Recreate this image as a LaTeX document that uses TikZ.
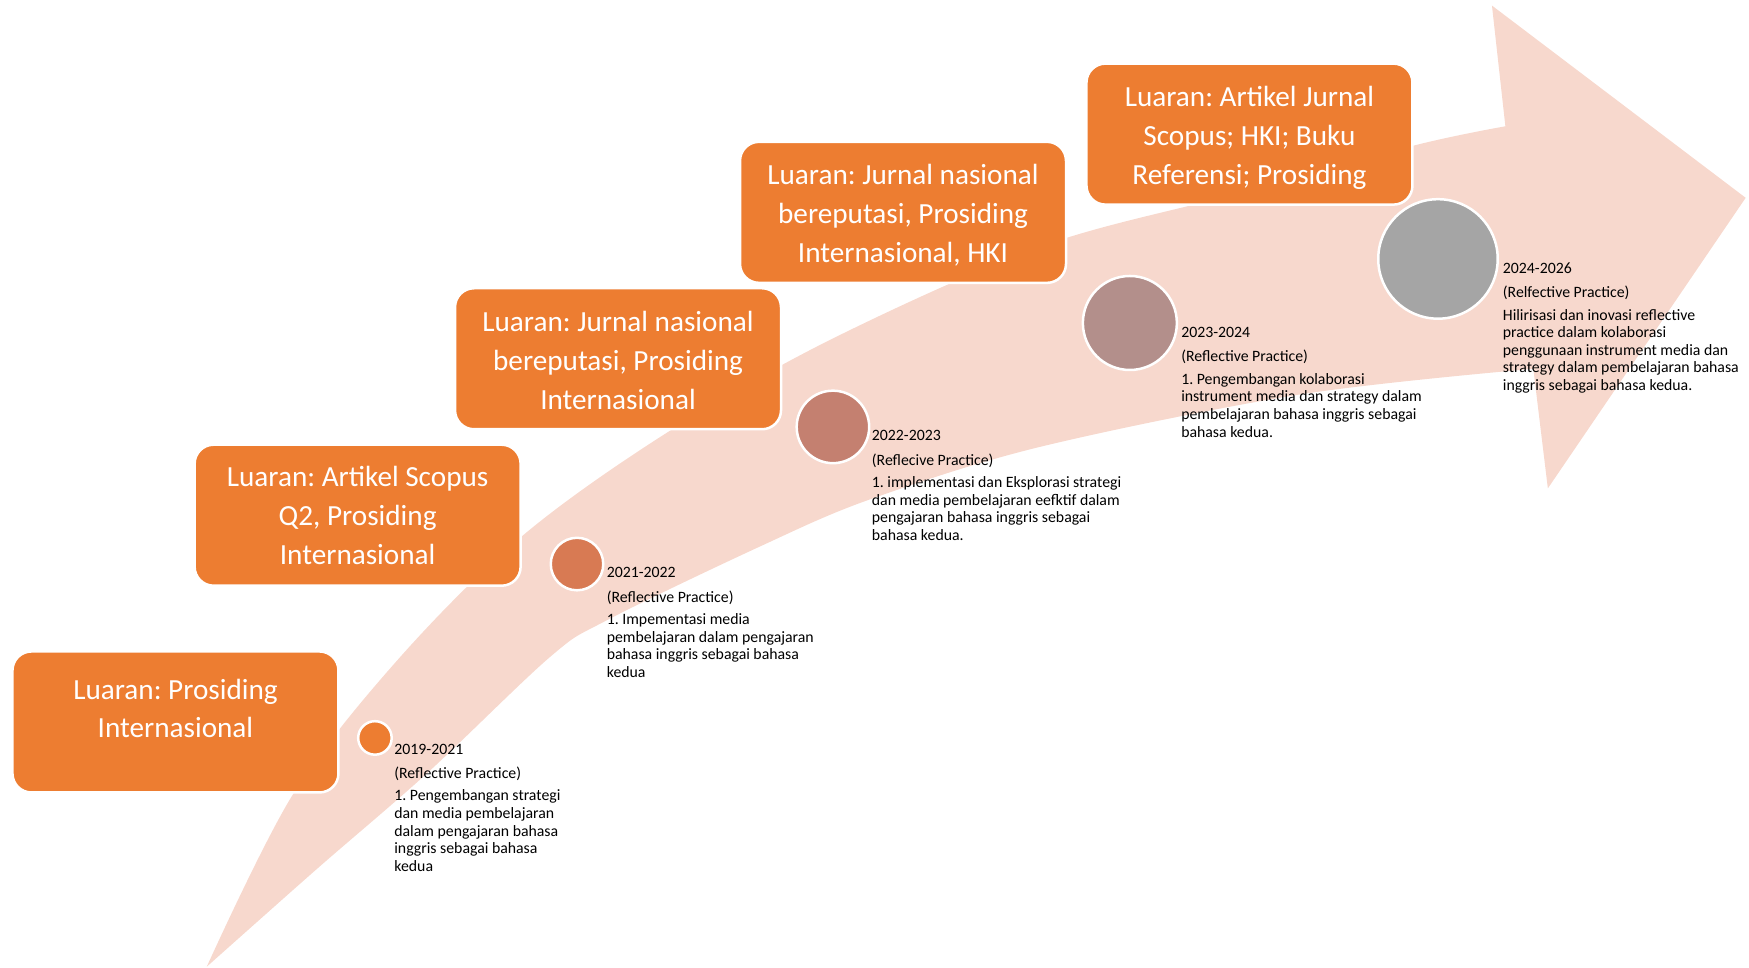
\documentclass[tikz,border=0pt]{standalone}
\usepackage{fontspec}
\setmainfont{Carlito}
\frenchspacing
\definecolor{orangeC}{RGB}{237,125,49}
\definecolor{arrowC}{RGB}{247,216,205}
\definecolor{dotA}{RGB}{237,125,49}
\definecolor{dotB}{RGB}{216,122,83}
\definecolor{dotC}{RGB}{196,128,112}
\definecolor{dotD}{RGB}{179,143,139}
\definecolor{dotE}{RGB}{165,165,165}
\begin{document}
\frenchspacing
\begin{tikzpicture}[x=1.11757pt,y=-1.11757pt,
  outbox/.style={rectangle, rounded corners=19pt, fill=orangeC, draw=white, line width=2.5pt,
    minimum width=326pt, minimum height=141pt, inner sep=0pt},
  boxtxt/.style={anchor=base, text=white, inner sep=0pt, font=\fontsize{29.2}{38.8}\selectfont},
  dot/.style={circle, draw=white, line width=2.5pt, inner sep=0pt},
  lbl/.style={anchor=base west, inner sep=0pt, text=black, font=\fontsize{15.8}{17.6}\selectfont}]
\useasboundingbox (0,0) rectangle (1565,865.3);

% curved arrow
\fill[arrowC] plot[smooth, tension=0.55] coordinates {(185,865) (262,711) (358,588) (468,479) (597,387) (743,304) (930,221) (1100,175) (1266,130) (1347,113)}
  -- (1335,5) -- (1562,177) -- (1385,437) -- (1372,330)
  -- plot[smooth, tension=0.55] coordinates {(1372,330) (1163,353) (930,400) (778,447) (680,489) (543,555) (492,588) (382,692) (283,778) (185,865)}
  -- cycle;

% output boxes
\node[outbox] (b1) at (157,646) {};
\node[outbox] (b2) at (320,461) {};
\node[outbox] (b3) at (553,321) {};
\node[outbox] (b4) at (808,190) {};
\node[outbox] (b5) at (1118,120) {};

\node[boxtxt] (bt1) at (157,625.5) {\begin{tabular}[t]{@{}c@{}}Luaran: Prosiding\\Internasional\end{tabular}};
\node[boxtxt] (bt2) at (320,435.5) {\begin{tabular}[t]{@{}c@{}}Luaran: Artikel Scopus\\Q2, Prosiding\\Internasional\end{tabular}};
\node[boxtxt] (bt3) at (553,297) {\begin{tabular}[t]{@{}c@{}}Luaran: Jurnal nasional\\bereputasi, Prosiding\\Internasional\end{tabular}};
\node[boxtxt] (bt4) at (808,165.5) {\begin{tabular}[t]{@{}c@{}}Luaran: Jurnal nasional\\bereputasi, Prosiding\\Internasional, HKI\end{tabular}};
\node[boxtxt] (bt5) at (1118,95.5) {\begin{tabular}[t]{@{}c@{}}Luaran: Artikel Jurnal\\Scopus; HKI; Buku\\Referensi; Prosiding\end{tabular}};

% milestone circles
\node[dot, fill=dotA, minimum size=33.5pt] (c1) at (335.5,660.3) {};
\node[dot, fill=dotB, minimum size=52.5pt] (c2) at (516.3,504.7) {};
\node[dot, fill=dotC, minimum size=72.5pt] (c3) at (745.3,382) {};
\node[dot, fill=dotD, minimum size=94pt] (c4) at (1011,289) {};
\node[dot, fill=dotE, minimum size=119.5pt] (c5) at (1286.7,231.7) {};

% labels
\node[lbl] (t1) at (352.7,674.7) {\begin{tabular}[t]{@{}l@{}}2019-2021\\[6.8pt](Reflective Practice)\\[4.8pt]1. Pengembangan strategi\\dan media pembelajaran\\dalam pengajaran bahasa\\inggris sebagai bahasa\\kedua\end{tabular}};
\node[lbl] (t2) at (542.8,517) {\begin{tabular}[t]{@{}l@{}}2021-2022\\[6.8pt](Reflective Practice)\\[4.8pt]1. Impementasi media\\pembelajaran dalam pengajaran\\bahasa inggris sebagai bahasa\\kedua\end{tabular}};
\node[lbl] (t3) at (780,394.3) {\begin{tabular}[t]{@{}l@{}}2022-2023\\[6.8pt](Reflecive Practice)\\[4.8pt]1. implementasi dan Eksplorasi strategi\\dan media pembelajaran eefktif dalam\\pengajaran bahasa inggris sebagai\\bahasa kedua.\end{tabular}};
\node[lbl] (t4) at (1056.8,302) {\begin{tabular}[t]{@{}l@{}}2023-2024\\[6.8pt](Reflective Practice)\\[4.8pt]1. Pengembangan kolaborasi\\instrument media dan strategy dalam\\pembelajaran bahasa inggris sebagai\\bahasa kedua.\end{tabular}};
\node[lbl] (t5) at (1344.6,244.5) {\begin{tabular}[t]{@{}l@{}}2024-2026\\[6.8pt](Relfective Practice)\\[4.8pt]Hilirisasi dan inovasi reflective\\practice dalam kolaborasi\\penggunaan instrument media dan\\strategy dalam pembelajaran bahasa\\inggris sebagai bahasa kedua.\end{tabular}};
\end{tikzpicture}
\end{document}
